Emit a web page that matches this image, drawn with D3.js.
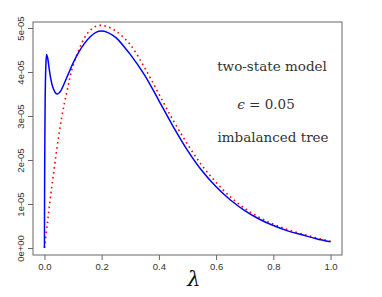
<!DOCTYPE html>
<html>
<head>
<meta charset="utf-8">
<script src="https://cdn.jsdelivr.net/npm/d3@7"></script>
<style>
  body { margin: 0; background: #fff; }
</style>
</head>
<body>
<div id="chart"></div>
<script>
  // lambda values and curve values (units of 1e-5)
  const blueLambda = [0, 0.0005, 0.001, 0.002, 0.003, 0.005, 0.0078, 0.011, 0.016, 0.022, 0.03, 0.038, 0.045, 0.055, 0.07, 0.085, 0.1, 0.12, 0.14, 0.16, 0.18, 0.2, 0.22, 0.25, 0.28, 0.3, 0.35, 0.4, 0.45, 0.5, 0.55, 0.6, 0.65, 0.7, 0.75, 0.8, 0.85, 0.9, 0.95, 1.0];
  const blueValues = [0, 1.2, 2.0, 3.0, 3.6, 4.15, 4.4, 4.33, 4.1, 3.85, 3.64, 3.53, 3.5, 3.55, 3.75, 3.98, 4.2, 4.45, 4.65, 4.8, 4.9, 4.93, 4.9, 4.78, 4.56, 4.4, 3.93, 3.35, 2.76, 2.22, 1.76, 1.39, 1.09, 0.85, 0.66, 0.51, 0.39, 0.3, 0.21, 0.14];

  const redLambda = [0, 0.01, 0.02, 0.03, 0.04, 0.05, 0.06, 0.07, 0.08, 0.09, 0.1, 0.12, 0.14, 0.16, 0.18, 0.2, 0.22, 0.25, 0.3, 0.35, 0.4, 0.45, 0.5, 0.55, 0.6, 0.65, 0.7, 0.75, 0.8, 0.85, 0.9, 0.95, 1.0];
  const redValues = [0, 0.55, 1.1, 1.6, 2.1, 2.55, 2.95, 3.3, 3.6, 3.9, 4.15, 4.5, 4.78, 4.95, 5.04, 5.06, 5.03, 4.93, 4.62, 4.1, 3.5, 2.9, 2.36, 1.88, 1.49, 1.16, 0.9, 0.7, 0.54, 0.42, 0.32, 0.23, 0.15];

  const xTicks = [0, 0.2, 0.4, 0.6, 0.8, 1.0];
  const xTickLabels = ["0.0", "0.2", "0.4", "0.6", "0.8", "1.0"];
  const yTicks = [0, 1e-5, 2e-5, 3e-5, 4e-5, 5e-5];
  const yTickLabels = ["0e+00", "1e-05", "2e-05", "3e-05", "4e-05", "5e-05"];

  const width = 382, height = 297;
  const box = { left: 33, right: 342, top: 22, bottom: 255 };

  const svg = d3.select("#chart").append("svg")
    .attr("width", width)
    .attr("height", height);

  // R style 4% padding on x
  const x = d3.scaleLinear().domain([-0.04, 1.04]).range([box.left, box.right]);
  const y = d3.scaleLinear().domain([0, 5e-5]).range([248, 28]);

  const line = d3.line()
    .x(d => x(d[0]))
    .y(d => y(d[1] * 1e-5))
    .curve(d3.curveCatmullRom.alpha(0.5));

  const blue = blueLambda.map((l, i) => [l, blueValues[i]]);
  const red = redLambda.map((l, i) => [l, redValues[i]]);

  svg.append("path")
    .datum(red)
    .attr("d", line)
    .attr("fill", "none")
    .attr("stroke", "#ff0000")
    .attr("stroke-width", 1.6)
    .attr("stroke-dasharray", "1.6,3.4");

  svg.append("path")
    .datum(blue)
    .attr("d", line)
    .attr("fill", "none")
    .attr("stroke", "#0000ff")
    .attr("stroke-width", 1.5);

  // frame
  svg.append("rect")
    .attr("x", box.left)
    .attr("y", box.top)
    .attr("width", box.right - box.left)
    .attr("height", box.bottom - box.top)
    .attr("fill", "none")
    .attr("stroke", "#666")
    .attr("stroke-width", 1);

  // x axis
  svg.append("g")
    .attr("transform", `translate(0, ${box.bottom})`)
    .call(d3.axisBottom(x)
      .tickValues(xTicks)
      .tickFormat((d, i) => xTickLabels[i])
      .tickSize(5)
      .tickPadding(3))
    .call(g => g.select(".domain").remove())
    .call(g => g.selectAll(".tick line").attr("stroke", "#666"))
    .call(g => g.selectAll(".tick text")
      .attr("font-family", "'Liberation Sans', Arial, sans-serif")
      .attr("font-size", "9.5px")
      .attr("fill", "#333"));

  // y axis with rotated labels
  svg.append("g")
    .attr("transform", `translate(${box.left}, 0)`)
    .call(d3.axisLeft(y)
      .tickValues(yTicks)
      .tickFormat((d, i) => yTickLabels[i])
      .tickSize(5))
    .call(g => g.select(".domain").remove())
    .call(g => g.selectAll(".tick line").attr("stroke", "#666"))
    .call(g => g.selectAll(".tick text")
      .attr("font-family", "'Liberation Sans', Arial, sans-serif")
      .attr("font-size", "9.5px")
      .attr("fill", "#333")
      .attr("x", null)
      .attr("dy", null)
      .attr("text-anchor", "middle")
      .attr("transform", "translate(-9.5, 0) rotate(-90)"));

  // x label
  svg.append("text")
    .attr("x", 194)
    .attr("y", 286)
    .attr("text-anchor", "middle")
    .attr("font-family", "'DejaVu Serif', serif")
    .attr("font-style", "italic")
    .attr("font-size", "21px")
    .attr("fill", "#111")
    .text("λ");

  // annotations
  const note = svg.append("g")
    .attr("font-family", "'DejaVu Serif', serif")
    .attr("font-size", "13.5px")
    .attr("fill", "#333")
    .attr("text-anchor", "middle");

  note.append("text").attr("x", 272).attr("y", 71).text("two-state model");
  const eps = note.append("text").attr("x", 266).attr("y", 109);
  eps.append("tspan").attr("font-style", "italic").text("ϵ");
  eps.append("tspan").text(" = 0.05");
  note.append("text").attr("x", 273).attr("y", 142).text("imbalanced tree");
</script>
</body>
</html>
